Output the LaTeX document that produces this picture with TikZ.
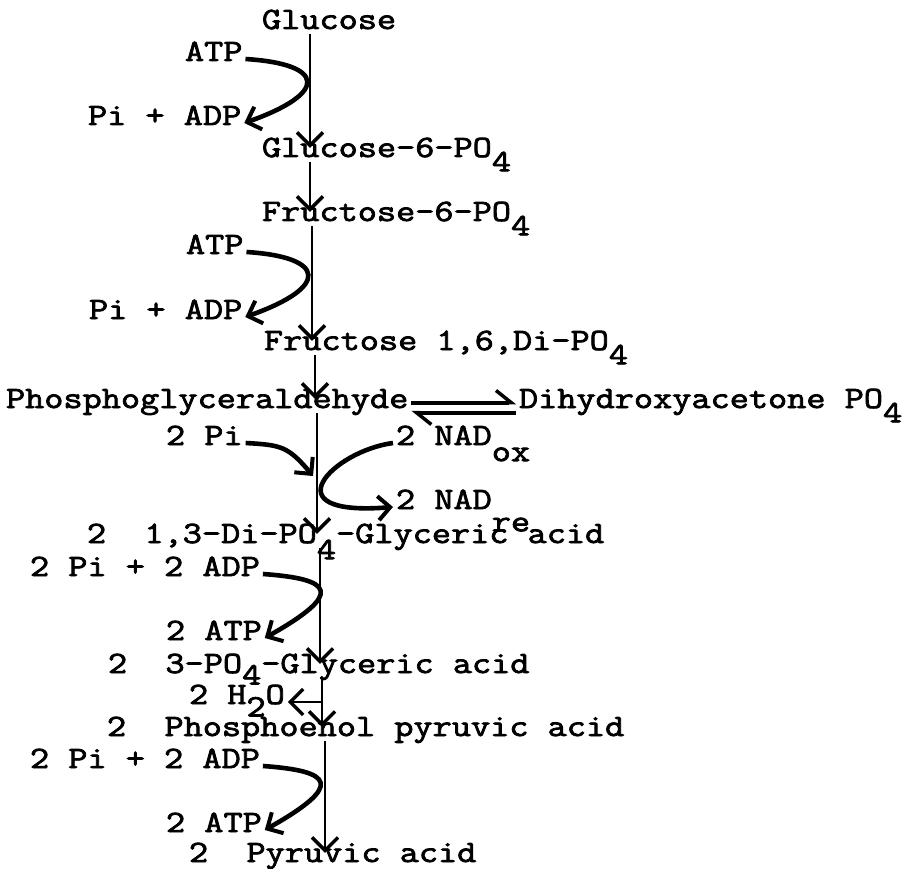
\documentclass[tikz,border=0pt]{standalone}
\usepackage{fontspec}
\setmainfont{Latin Modern Mono}[AutoFakeBold=2.5, FakeStretch=1.2]
\usetikzlibrary{arrows.meta}
\newcommand\lowr[2][0.46em]{\raisebox{-#1}{#2}}
\tikzset{
    txt/.style={anchor=base west, inner sep=0pt, outer sep=3pt, text height=0.62em, text depth=0.22em, font=\fontsize{31}{37}\selectfont\bfseries},
    spine/.style={line width=2.8pt, -{Straight Barb[length=13pt, width=26pt, line width=3.4pt]}},
    branch/.style={line width=4.6pt, -{Straight Barb[length=12pt, width=24pt, line width=4pt]}},
    equil/.style={line width=4pt, -{Straight Barb[left, length=15pt, width=24pt, line width=3.5pt]}}
}

\begin{document}
\begin{tikzpicture}[x=1pt, y=-1pt]
  \useasboundingbox (0,0) rectangle (918,869);
  % names on the page
  \node(glc)[txt] at (259,29){Glucose};
  \node(atpA)[txt] at (182,61){ATP};
  \node(adpA)[txt] at (85,125){Pi + ADP};
  \node(gsix)[txt] at (259,157){Glucose-6-PO\lowr{4}};
  \node(fsix)[txt] at (259,221){Fructose-6-PO\lowr{4}};
  \node(atpB)[txt] at (183,254){ATP};
  \node(adpB)[txt] at (86,319){Pi + ADP};
  \node(fdp)[txt] at (261,350){Fructose 1,6,Di-PO\lowr{4}};
  \node(pgal)[txt] at (3,408){Phosphoglyceraldehyde};
  \node(dhap)[txt] at (516,408){Dihydroxyacetone PO\lowr{4}};
  \node(piC)[txt] at (163,445){2 Pi};
  \node(naox)[txt] at (393,445){2 NAD\lowr[0.52em]{ox}};
  \node(nare)[txt] at (393,509){2 NAD\lowr[0.72em]{re}};
  \node(dpga)[txt] at (84,543){2~~1,3-Di-PO\lowr[0.52em]{4}-Glyceric acid};
  \node(adpC)[txt] at (27,576){2 Pi + 2 ADP};
  \node(atpC)[txt] at (163,640){2 ATP};
  \node(pgac)[txt] at (105,673){2~~3-PO\lowr[0.37em]{4}-Glyceric acid};
  \node(water)[txt] at (186,704){2 H\lowr[0.4em]{2}O};
  \node(pep)[txt] at (104,736){2~~Phosphoenol pyruvic acid};
  \node(adpD)[txt] at (27,768){2 Pi + 2 ADP};
  \node(atpD)[txt] at (163,832){2 ATP};
  \node(pyr)[txt] at (186,862){2~~Pyruvic acid};
  % columns of the main line
  \coordinate(sA) at (310,0);
  \coordinate(sB) at (310,0);
  \coordinate(sC) at (312,0);
  \coordinate(sD) at (315,0);
  \coordinate(sE) at (317,0);
  \coordinate(sF) at (320,0);
  \coordinate(sG) at (322,0);
  \coordinate(sH) at (325,0);
  \coordinate(piend) at (313,476);
  \draw[spine](glc.south -| sA)--(gsix.north -| sA);
  \draw[spine](gsix.south -| sB)--(fsix.north -| sB);
  \draw[spine](fsix.south -| sC)--(fdp.north -| sC);
  \draw[spine](fdp.south -| sD)--(pgal.north -| sD);
  \draw[spine](pgal.south -| sE)--(dpga.north -| sE);
  \draw[spine](dpga.south -| sF)--(pgac.north -| sF);
  \draw[spine](pgac.south -| sG)--(pep.north -| sG);
  \draw[spine](pep.south -| sH)--(pyr.north -| sH);
  % side reactions
  \draw[branch](atpA.east) .. controls +(80,5) and +(85,-30) .. (adpA.east);
  \draw[branch](atpB.east) .. controls +(80,5) and +(85,-30) .. (adpB.east);
  \draw[branch](piC.east) .. controls +(35,2) and +(-25,-30) .. (piend);
  \draw[branch](naox.west) .. controls +(-60,8) and +(-125,10) .. (nare.west);
  \draw[branch](adpC.east) .. controls +(70,5) and +(80,-45) .. (atpC.east);
  \draw[branch](adpD.east) .. controls +(70,5) and +(80,-45) .. (atpD.east);
  \draw[spine](water.east -| sG)--(water.east);
  \draw[equil]([yshift=3.5pt]pgal.east)--([yshift=3.5pt]dhap.west);
  \draw[equil]([yshift=-6.5pt]dhap.west)--([yshift=-6.5pt]pgal.east);
\end{tikzpicture}
\end{document}
